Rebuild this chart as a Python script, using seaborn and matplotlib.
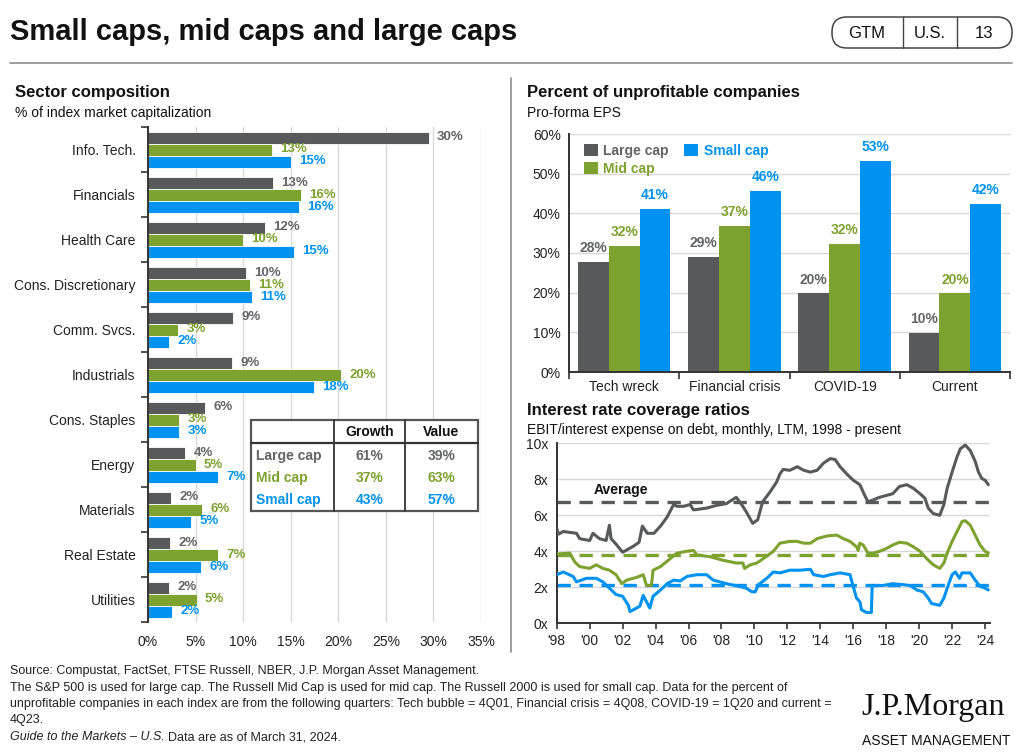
import numpy as np
import pandas as pd
import matplotlib
matplotlib.use("Agg")
import matplotlib.pyplot as plt
import seaborn as sns
from matplotlib.patches import FancyBboxPatch, Rectangle, Patch
from matplotlib.ticker import MultipleLocator, FixedLocator, FuncFormatter

# ---------------- data ----------------
caps = ["Large cap", "Mid cap", "Small cap"]

sectors = ["Info. Tech.", "Financials", "Health Care", "Cons. Discretionary",
           "Comm. Svcs.", "Industrials", "Cons. Staples", "Energy",
           "Materials", "Real Estate", "Utilities"]
large_sector = [29.5, 13.1, 12.3, 10.3, 8.9, 8.8, 6.0, 3.9, 2.4, 2.3, 2.2]
mid_sector = [13.0, 16.1, 10.0, 10.7, 3.2, 20.3, 3.3, 5.0, 5.7, 7.4, 5.1]
small_sector = [15.0, 15.9, 15.3, 10.9, 2.2, 17.4, 3.3, 7.4, 4.5, 5.6, 2.5]
large_sector_labels = ["30%", "13%", "12%", "10%", "9%", "9%", "6%", "4%", "2%", "2%", "2%"]
mid_sector_labels = ["13%", "16%", "10%", "11%", "3%", "20%", "3%", "5%", "6%", "7%", "5%"]
small_sector_labels = ["15%", "16%", "15%", "11%", "2%", "18%", "3%", "7%", "5%", "6%", "2%"]

table_cols = ["Growth", "Value"]
growth_share = ["61%", "37%", "43%"]
value_share = ["39%", "63%", "57%"]

events = ["Tech wreck", "Financial crisis", "COVID-19", "Current"]
unprof_large = [27.8, 28.9, 19.8, 9.9]
unprof_mid = [31.8, 36.9, 32.3, 19.8]
unprof_small = [41.2, 45.7, 53.1, 42.3]
unprof_large_labels = ["28%", "29%", "20%", "10%"]
unprof_mid_labels = ["32%", "37%", "32%", "20%"]
unprof_small_labels = ["41%", "46%", "53%", "42%"]

large_years = [1998.0, 1998.1, 1998.4, 1999.2, 1999.4, 2000.0, 2000.2, 2000.6, 2001.0, 2001.2,
               2001.3, 2001.6, 2002.0, 2002.6, 2003.0, 2003.2, 2003.5, 2003.9, 2004.3, 2004.7,
               2005.1, 2005.3, 2005.7, 2006.1, 2006.3, 2007.1, 2007.7, 2008.3, 2008.9, 2009.3,
               2009.5, 2009.9, 2010.2, 2010.5, 2010.95, 2011.35, 2011.55, 2011.75, 2012.15, 2012.6,
               2013.0, 2013.4, 2013.8, 2014.2, 2014.6, 2014.9, 2015.2, 2015.6, 2016.0, 2016.4,
               2016.7, 2016.9, 2017.2, 2017.6, 2018.0, 2018.4, 2018.8, 2019.25, 2019.65, 2020.05,
               2020.35, 2020.55, 2020.85, 2021.25, 2021.5, 2021.7, 2022.0, 2022.3, 2022.5, 2022.8,
               2023.1, 2023.4, 2023.6, 2023.8, 2024.0, 2024.2]
large_cov = [5.3, 4.95, 5.1, 5.0, 4.7, 4.6, 5.0, 4.7, 4.6, 5.45,
             4.7, 4.4, 3.95, 4.25, 4.5, 5.4, 5.0, 5.0, 5.4, 5.9,
             6.6, 6.5, 6.5, 6.6, 6.3, 6.4, 6.55, 6.65, 7.0, 6.5,
             6.2, 5.55, 5.75, 6.75, 7.3, 7.85, 8.3, 8.55, 8.5, 8.7,
             8.5, 8.4, 8.5, 8.9, 9.15, 9.1, 8.7, 8.3, 7.95, 7.7,
             7.1, 6.75, 6.85, 7.0, 7.1, 7.2, 7.6, 7.7, 7.5, 7.2,
             6.95, 6.4, 6.1, 6.0, 6.6, 7.5, 8.4, 9.25, 9.7, 9.9,
             9.6, 9.0, 8.4, 8.05, 7.95, 7.7]

mid_years = [1998.0, 1998.8, 1999.1, 1999.4, 2000.0, 2000.4, 2000.8, 2001.2, 2001.6, 2001.95,
             2002.25, 2002.85, 2003.25, 2003.45, 2003.75, 2003.85, 2004.3, 2004.9, 2005.3, 2005.9,
             2006.3, 2006.5, 2007.3, 2008.1, 2008.9, 2009.3, 2009.4, 2009.75, 2010.15, 2010.55,
             2011.15, 2011.55, 2012.15, 2012.6, 2013.0, 2013.4, 2013.8, 2014.4, 2015.0, 2015.4,
             2015.8, 2016.2, 2016.3, 2016.4, 2016.6, 2016.9, 2017.2, 2017.6, 2018.0, 2018.4,
             2018.8, 2019.25, 2019.65, 2020.05, 2020.45, 2020.85, 2021.25, 2021.5, 2021.7, 2022.0,
             2022.3, 2022.6, 2022.8, 2023.1, 2023.4, 2023.7, 2024.0, 2024.2]
mid_cov = [3.85, 3.9, 3.4, 3.15, 3.05, 3.25, 3.05, 2.95, 2.7, 2.2,
           2.4, 2.55, 2.7, 2.1, 2.1, 2.95, 3.15, 3.6, 3.9, 4.0,
           4.05, 3.8, 3.7, 3.5, 3.35, 3.35, 3.05, 3.25, 3.35, 3.6,
           4.0, 4.45, 4.55, 4.55, 4.45, 4.45, 4.7, 4.85, 4.9, 4.7,
           4.55, 4.25, 4.05, 4.45, 4.35, 3.9, 3.9, 4.0, 4.15, 4.35,
           4.5, 4.45, 4.25, 4.0, 3.6, 3.25, 3.05, 3.35, 3.9, 4.55,
           5.1, 5.65, 5.7, 5.45, 4.9, 4.35, 4.0, 3.9]

small_years = [1998.0, 1998.4, 1999.0, 1999.2, 1999.8, 2000.4, 2000.8, 2001.2, 2001.6, 2002.0,
               2002.35, 2002.45, 2002.85, 2003.05, 2003.25, 2003.45, 2003.65, 2003.85, 2004.3, 2004.7,
               2005.1, 2005.5, 2005.9, 2006.5, 2007.1, 2007.5, 2008.3, 2009.1, 2009.5, 2009.85,
               2010.05, 2010.25, 2010.75, 2011.15, 2011.55, 2012.15, 2012.75, 2013.4, 2013.6, 2014.2,
               2014.6, 2015.2, 2015.8, 2016.0, 2016.2, 2016.4, 2016.5, 2016.8, 2017.1, 2017.15,
               2017.8, 2018.4, 2019.0, 2019.45, 2019.85, 2020.25, 2020.55, 2020.75, 2021.25, 2021.5,
               2021.7, 2022.0, 2022.2, 2022.45, 2022.6, 2023.1, 2023.4, 2023.7, 2024.0, 2024.2]
small_cov = [2.7, 2.85, 2.6, 2.3, 2.5, 2.5, 2.3, 1.95, 1.6, 1.5,
             1.0, 0.65, 0.85, 0.95, 1.55, 1.2, 0.85, 1.5, 1.85, 2.2,
             2.4, 2.35, 2.6, 2.7, 2.7, 2.4, 2.2, 2.05, 1.95, 1.75,
             1.75, 2.15, 2.5, 2.85, 2.8, 2.95, 2.95, 3.0, 2.7, 2.6,
             2.7, 2.8, 2.7, 2.05, 1.4, 1.2, 0.75, 0.6, 0.6, 2.1,
             2.1, 2.2, 2.15, 2.1, 1.85, 1.75, 1.4, 1.1, 1.0, 1.4,
             1.95, 2.7, 2.85, 2.5, 2.8, 2.8, 2.4, 2.05, 1.95, 1.85]

avg_cov = [6.75, 3.82, 2.15]

# ---------------- style ----------------
GRAY = "#58595b"
GREEN = "#7da22f"
BLUE = "#0092f0"
LGRAY = "#636466"
palette = {"Large cap": GRAY, "Mid cap": GREEN, "Small cap": BLUE}
label_cols = [LGRAY, GREEN, BLUE]
GRID = "#d9d9d9"
SPINE = "#333333"

sns.set_theme(style="white")
plt.rcParams["font.family"] = ["Liberation Sans", "DejaVu Sans"]

W, H = 1024, 756
fig = plt.figure(figsize=(W / 100, H / 100), dpi=100)
fig.patch.set_facecolor("white")


def rect(x0, y0, x1, y1):
    return [x0 / W, 1 - y1 / H, (x1 - x0) / W, (y1 - y0) / H]


pct = FuncFormatter(lambda v, p: f"{v:.0f}%")

# ---------------- left: sector composition ----------------
df1 = pd.DataFrame({
    "sector": sectors * 3,
    "cap": sum([[c] * len(sectors) for c in caps], []),
    "value": large_sector + mid_sector + small_sector,
})
ax1 = fig.add_axes(rect(148, 127, 481, 622))
sns.barplot(data=df1, y="sector", x="value", hue="cap", hue_order=caps, order=sectors,
            palette=palette, orient="h", width=0.8, gap=0, saturation=1,
            edgecolor="white", linewidth=0.6, legend=False, ax=ax1)
ax1.set_xlim(0, 35)
ax1.set_ylim(len(sectors) - 0.5, -0.5)
ax1.xaxis.set_major_locator(MultipleLocator(5))
ax1.xaxis.set_major_formatter(pct)
ax1.grid(axis="x", color=GRID, lw=1)
ax1.grid(axis="y", visible=False)
ax1.set_axisbelow(True)
for s in ["top", "right", "bottom"]:
    ax1.spines[s].set_visible(False)
ax1.spines["left"].set_color(SPINE)
ax1.spines["left"].set_linewidth(1.4)
ax1.yaxis.set_minor_locator(FixedLocator(np.arange(-0.5, len(sectors), 1.0)))
ax1.tick_params(axis="y", which="minor", length=5, width=1.2, color=SPINE, left=True)
ax1.tick_params(axis="y", which="major", length=0, pad=9, labelsize=10, labelcolor="#222222")
ax1.tick_params(axis="x", length=0, pad=9, labelsize=10, labelcolor="#222222")
ax1.set_xlabel("")
ax1.set_ylabel("")
for cont, labs, col in zip(ax1.containers,
                           [large_sector_labels, mid_sector_labels, small_sector_labels],
                           label_cols):
    ax1.bar_label(cont, labels=labs, padding=6, color=col, fontsize=9.5, fontweight="bold")

# ---------------- top right: unprofitable companies ----------------
df2 = pd.DataFrame({
    "event": events * 3,
    "cap": sum([[c] * len(events) for c in caps], []),
    "value": unprof_large + unprof_mid + unprof_small,
})
ax2 = fig.add_axes(rect(569, 134, 1010, 372))
sns.barplot(data=df2, x="event", y="value", hue="cap", hue_order=caps, order=events,
            palette=palette, width=0.84, gap=0, saturation=1, linewidth=0,
            legend=False, ax=ax2)
ax2.set_ylim(0, 60)
ax2.set_xlim(-0.5, len(events) - 0.5)
ax2.yaxis.set_major_locator(MultipleLocator(10))
ax2.yaxis.set_major_formatter(pct)
ax2.grid(axis="y", color=GRID, lw=1)
ax2.grid(axis="x", visible=False)
ax2.set_axisbelow(True)
for s in ["top", "right"]:
    ax2.spines[s].set_visible(False)
for s in ["left", "bottom"]:
    ax2.spines[s].set_color(SPINE)
    ax2.spines[s].set_linewidth(1.4)
ax2.xaxis.set_minor_locator(FixedLocator(np.arange(-0.5, len(events), 1.0)))
ax2.tick_params(axis="x", which="minor", length=5, width=1.2, color=SPINE, bottom=True)
ax2.tick_params(axis="x", which="major", length=0, pad=6, labelsize=10, labelcolor="#222222")
ax2.tick_params(axis="y", length=0, pad=6, labelsize=10, labelcolor="#222222")
ax2.set_xlabel("")
ax2.set_ylabel("")
for cont, labs, col in zip(ax2.containers,
                           [unprof_large_labels, unprof_mid_labels, unprof_small_labels],
                           label_cols):
    ax2.bar_label(cont, labels=labs, padding=5, color=col, fontsize=10, fontweight="bold")
handles = [Patch(facecolor=palette[c], edgecolor="none") for c in caps]
leg = ax2.legend(handles, caps, ncol=2, loc="upper left", bbox_to_anchor=(0.015, 0.995),
                 frameon=False, handlelength=1.0, handleheight=1.0, handletextpad=0.4,
                 labelspacing=0.3, columnspacing=1.1, borderpad=0.1,
                 prop={"size": 10, "weight": "bold"})
for t, c in zip(leg.get_texts(), label_cols):
    t.set_color(c)

# ---------------- bottom right: interest coverage ----------------
ax3 = fig.add_axes(rect(556.7, 443.3, 990, 623.3))
series = [(large_years, large_cov, GRAY), (mid_years, mid_cov, GREEN), (small_years, small_cov, BLUE)]
for (yrs, vals, col), avg in zip(series, avg_cov):
    ax3.axhline(avg, color=col, lw=2.4, ls=(0, (4, 2.6)), zorder=2)
    sns.lineplot(x=yrs, y=vals, color=col, lw=2.2, estimator=None, sort=False, ax=ax3, zorder=3)
ax3.set_xlim(1998, 2024.3)
ax3.set_ylim(0, 10)
ax3.yaxis.set_major_locator(MultipleLocator(2))
ax3.yaxis.set_major_formatter(FuncFormatter(lambda v, p: f"{v:.0f}x"))
ax3.xaxis.set_major_locator(FixedLocator(np.arange(1998, 2025, 2)))
ax3.xaxis.set_major_formatter(FuncFormatter(lambda v, p: f"'{int(round(v)) % 100:02d}"))
ax3.grid(axis="y", color=GRID, lw=1)
ax3.grid(axis="x", visible=False)
ax3.set_axisbelow(True)
for s in ["top", "right"]:
    ax3.spines[s].set_visible(False)
for s in ["left", "bottom"]:
    ax3.spines[s].set_color(SPINE)
    ax3.spines[s].set_linewidth(1.4)
ax3.tick_params(axis="x", length=4, width=1.2, color=SPINE, pad=4, labelsize=10,
                labelcolor="#222222", bottom=True)
ax3.tick_params(axis="y", length=0, pad=6, labelsize=10, labelcolor="#222222")
ax3.set_xlabel("")
ax3.set_ylabel("")
ax3.text(2001.9, 7.4, "Average", ha="center", va="center", fontsize=10,
         fontweight="bold", color="#111111")

# ---------------- overlay: titles, table, footer ----------------
ov = fig.add_axes([0, 0, 1, 1], zorder=10)
ov.set_xlim(0, W)
ov.set_ylim(H, 0)
ov.axis("off")
ov.patch.set_alpha(0)

ov.text(10, 32, "Small caps, mid caps and large caps", fontsize=21, fontweight="bold",
        va="center", ha="left", color="#111111")
ov.plot([10, 1012], [63, 63], color="#8c8c8c", lw=1.2)
ov.add_patch(FancyBboxPatch((832, 17), 180, 31, boxstyle="round,pad=0,rounding_size=15",
                            facecolor="white", edgecolor="#444444", lw=1.1))
for xd in [903, 957]:
    ov.plot([xd, xd], [17, 48], color="#444444", lw=1.0)
for xt, t in [(867, "GTM"), (930, "U.S."), (984.5, "13")]:
    ov.text(xt, 33, t, fontsize=12, ha="center", va="center", color="#111111")

ov.plot([511, 511], [78, 652], color="#8c8c8c", lw=1.2)

ov.text(15, 92, "Sector composition", fontsize=12, fontweight="bold", va="center", color="#111111")
ov.text(15, 113, "% of index market capitalization", fontsize=10, va="center", color="#111111")
ov.text(527, 92, "Percent of unprofitable companies", fontsize=12, fontweight="bold",
        va="center", color="#111111")
ov.text(527, 113, "Pro-forma EPS", fontsize=10, va="center", color="#111111")
ov.text(527, 410, "Interest rate coverage ratios", fontsize=12, fontweight="bold",
        va="center", color="#111111")
ov.text(527, 430, "EBIT/interest expense on debt, monthly, LTM, 1998 - present", fontsize=10,
        va="center", color="#111111")

# table
ov.add_patch(Rectangle((251, 420), 227, 91, facecolor="white", edgecolor="#555555", lw=1.6))
ov.plot([251, 478], [443, 443], color="#333333", lw=1.6)
for xd in [334, 405]:
    ov.plot([xd, xd], [420, 511], color="#333333", lw=1.3)
for xc, t in zip([369.5, 441.5], table_cols):
    ov.text(xc, 432, t, fontsize=10, fontweight="bold", ha="center", va="center", color="#111111")
for i, (cap, g, v, col) in enumerate(zip(caps, growth_share, value_share, label_cols)):
    yy = 456 + i * 22
    ov.text(256, yy, cap, fontsize=10, fontweight="bold", ha="left", va="center", color=col)
    ov.text(369.5, yy, g, fontsize=10, fontweight="bold", ha="center", va="center", color=col)
    ov.text(441.5, yy, v, fontsize=10, fontweight="bold", ha="center", va="center", color=col)

# footer
FS = 9.0
foot = [
    "Source: Compustat, FactSet, FTSE Russell, NBER, J.P. Morgan Asset Management.",
    "The S&P 500 is used for large cap. The Russell Mid Cap is used for mid cap. The Russell 2000 is used for small cap. Data for the percent of",
    "unprofitable companies in each index are from the following quarters: Tech bubble = 4Q01, Financial crisis = 4Q08, COVID-19 = 1Q20 and current =",
    "4Q23.",
]
for i, line in enumerate(foot):
    ov.text(10, 671 + i * 16.5, line, fontsize=FS, va="center", ha="left", color="#222222")
it = ov.text(10, 737, "Guide to the Markets \u2013 U.S.", fontsize=FS, style="italic",
             va="center", ha="left", color="#222222")
fig.canvas.draw()
bb = it.get_window_extent(renderer=fig.canvas.get_renderer())
ov.text(bb.x1 + 3, 737, "Data are as of March 31, 2024.", fontsize=FS, va="center",
        ha="left", color="#222222")

ov.text(861, 708, "J.P.Morgan", fontsize=23, family="Liberation Serif", va="center",
        ha="left", color="#111111")
ov.text(862, 741, "ASSET MANAGEMENT", fontsize=10, va="center", ha="left", color="#111111")

fig.savefig("out.png", dpi=100, facecolor="white")
